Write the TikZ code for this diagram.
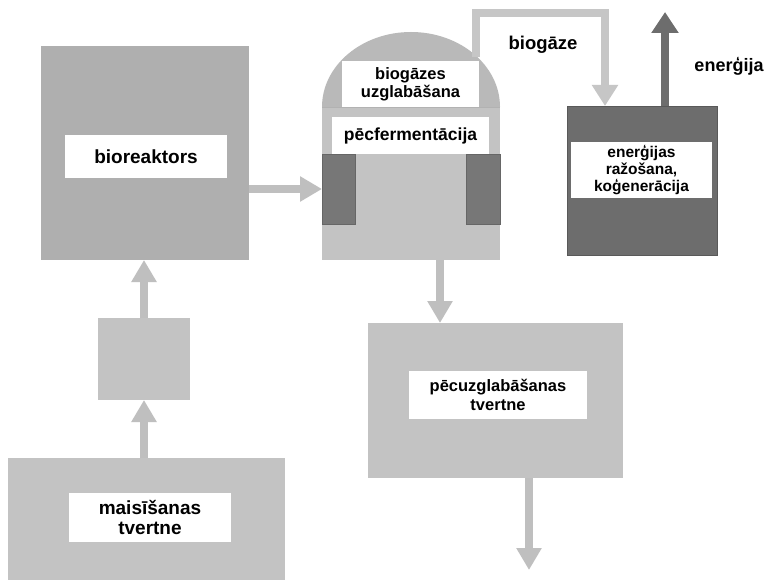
\documentclass[tikz,border=0pt]{standalone}
\usepackage{fontspec}
\setmainfont{Liberation Sans}
\usetikzlibrary{arrows.meta}
\definecolor{gA}{HTML}{AFAFAF}
\definecolor{gB}{HTML}{C3C3C3}
\definecolor{gDome}{HTML}{B9B9B9}
\definecolor{gDark}{HTML}{777777}
\definecolor{gEn}{HTML}{6D6D6D}
\definecolor{gArr}{HTML}{BFBFBF}
\definecolor{gPipe}{HTML}{C6C6C6}
\tikzset{
  box/.style={rectangle, inner sep=0pt, outer sep=0pt},
  lbl/.style={rectangle, fill=white, inner sep=0pt, outer sep=0pt, align=center, font=\bfseries},
  arr/.style={draw=gArr, line width=7.5pt, -{Triangle[length=22pt,width=24pt]}},
  darr/.style={draw=gEn, line width=8pt, -{Triangle[length=21pt,width=26pt]}},
  parr/.style={draw=gPipe, line width=8pt, -{Triangle[length=21pt,width=25pt]}}
}
\begin{document}
\begin{tikzpicture}[x=1pt,y=-1pt]
\useasboundingbox[fill=white] (0,0) rectangle (770,580);
% fermenter
\node[box, fill=gB, minimum width=178pt, minimum height=153pt] (ferm) at (411,183.5) {};
\fill[gDome] (322,107) arc[start angle=180, end angle=360, x radius=89, y radius=75] -- cycle;
\draw[gray!60, line width=0.6pt] (322,107) -- (500,107);
\node[box, fill=gDark, draw=gray!80!black, line width=0.6pt, minimum width=33pt, minimum height=70pt] (fl) at (338.5,189) {};
\node[box, fill=gDark, draw=gray!80!black, line width=0.6pt, minimum width=34pt, minimum height=70pt] (fr) at (483,189) {};
\node[lbl, minimum width=137pt, minimum height=46pt, font=\bfseries\fontsize{16.5}{18}\selectfont] (stor) at (410.5,84) {biogāzes\\uzglabāšana};
\node[lbl, minimum width=157pt, minimum height=37pt, font=\bfseries\fontsize{17.5}{20}\selectfont] (pf) at (410.5,135.5) {pēcfermentācija};
% bioreactor
\node[box, fill=gA, minimum width=208pt, minimum height=214pt] (bio) at (145,153) {};
\node[lbl, minimum width=162pt, minimum height=43pt, font=\bfseries\fontsize{19}{21}\selectfont] (biol) at (146,156.5) {bioreaktors};
% small box
\node[box, fill=gB, minimum width=92pt, minimum height=82pt] (small) at (144,359) {};
% mixing tank
\node[box, fill=gB, minimum width=277pt, minimum height=132pt] (mix) at (146.5,524) {};
\node[lbl, minimum width=162pt, minimum height=49pt, font=\bfseries\fontsize{19}{20.5}\selectfont] (mixl) at (150,517.5) {maisīšanas\\tvertne};
% post storage
\node[box, fill=gB, minimum width=255pt, minimum height=155pt] (post) at (495.5,400.5) {};
\node[lbl, minimum width=178pt, minimum height=48pt, font=\bfseries\fontsize{16.5}{19}\selectfont] (postl) at (498,395) {pēcuzglabāšanas\\tvertne};
% energy
\node[box, fill=gEn, draw=gray!70!black, line width=0.6pt, minimum width=150pt, minimum height=149pt] (en) at (642,180.5) {};
\node[lbl, minimum width=141pt, minimum height=56pt, font=\bfseries\fontsize{15.5}{17}\selectfont] (enl) at (641.5,170) {enerģijas\\ražošana,\\koģenerācija};
% labels
\node[font=\bfseries\fontsize{18.5}{20}\selectfont, inner sep=0pt] (bgz) at (543,45) {biogāze};
\node[font=\bfseries\fontsize{18}{20}\selectfont, inner sep=0pt] (enj) at (729,66) {enerģija};
% coordinates
\coordinate (pipe0) at (476,57);
\coordinate (pipe1) at (605,13);
\coordinate (eout) at (665,12);
\coordinate (out) at (529,570);
% connectors
\draw[arr] (small.south |- mix.north) -- (small.south);
\draw[arr] (small.north) -- (small.north |- bio.south);
\draw[arr] (bio.east |- fl.west) -- (fl.west);
\draw[arr] ([xshift=29pt]ferm.south) -- ([xshift=29pt]ferm.south |- post.north);
\draw[arr] ([xshift=33.5pt]post.south) -- (out);
\draw[parr] (pipe0) |- (pipe1) -- (pipe1 |- en.north);
\draw[darr] (en.north -| eout) -- (eout);
\end{tikzpicture}
\end{document}
